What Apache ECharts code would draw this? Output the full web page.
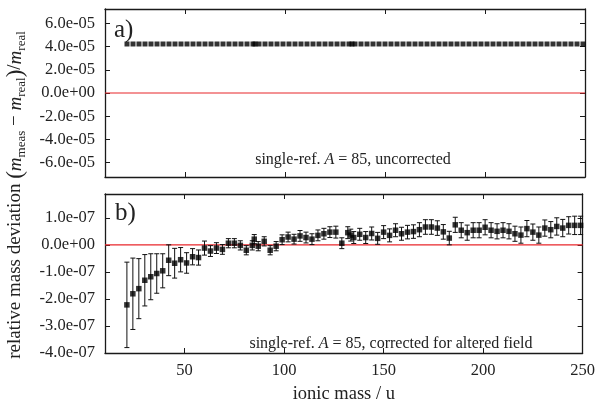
<!DOCTYPE html>
<html><head><meta charset="utf-8">
<script src="https://cdn.jsdelivr.net/npm/echarts@6/dist/echarts.min.js"></script>
<style>html,body{margin:0;padding:0;background:#fff}#c{width:598px;height:405px}</style>
</head><body><div id="c"></div>
<script>
// ionic masses (u)
const masses = [21,24,27,30,33,36,39,42,45,48,51,54,57,60,63,66,69,72,75,78,81,84,85,87,90,93,96,99,102,105,108,111,114,117,120,123,126,129,132,133.5,135,138,141,144,147,150,153,156,159,162,165,168,171,174,177,180,183,186,189,192,195,198,201,204,207,210,213,216,219,222,225,228,231,234,237,240,243,246,249];
// panel a: uncorrected relative deviation
const topValues = masses.map(() => 4.23e-5);
// panel b: corrected relative deviation (units 1e-7) and uncertainty
const bottomValuesE7 = [-2.22,-1.81,-1.62,-1.31,-1.18,-1.06,-0.96,-0.57,-0.68,-0.55,-0.67,-0.44,-0.47,-0.12,-0.23,-0.12,-0.17,0.06,0.06,-0.02,-0.20,-0.02,0.21,-0.05,0.13,-0.20,-0.05,0.19,0.29,0.21,0.33,0.27,0.21,0.35,0.41,0.47,0.47,0.06,0.45,0.36,0.27,0.39,0.27,0.42,0.24,0.47,0.35,0.54,0.41,0.47,0.49,0.56,0.66,0.66,0.62,0.48,0.25,0.74,0.54,0.45,0.54,0.54,0.65,0.54,0.50,0.54,0.50,0.41,0.36,0.60,0.47,0.36,0.62,0.56,0.68,0.62,0.72,0.72,0.72];
const bottomErrE7 = [1.58,1.32,1.11,0.95,0.85,0.73,0.63,0.57,0.55,0.45,0.38,0.30,0.28,0.26,0.20,0.20,0.18,0.17,0.17,0.17,0.17,0.17,0.17,0.17,0.17,0.17,0.17,0.18,0.18,0.18,0.20,0.20,0.20,0.20,0.20,0.20,0.22,0.20,0.22,0.22,0.22,0.22,0.22,0.24,0.22,0.24,0.24,0.24,0.24,0.25,0.25,0.26,0.27,0.27,0.27,0.27,0.25,0.28,0.28,0.28,0.28,0.28,0.28,0.28,0.28,0.28,0.28,0.28,0.30,0.30,0.30,0.30,0.30,0.30,0.32,0.32,0.32,0.34,0.34];
// zero reference line
const zeroLineX = [10, 250];
const zeroLineY = [0, 0];
const xTicks = [50,100,150,200,250];
const topYTicks = [-6e-5,-4e-5,-2e-5,0,2e-5,4e-5,6e-5];
const bottomYTicks = [-4e-7,-3e-7,-2e-7,-1e-7,0,1e-7];

const FONT = 'Liberation Serif';
const AX = '#1a1a1a';
const RED = '#e8262b';

function fmtExp(v){
  if (Math.abs(v) < 1e-15) return '0.0e+00';
  return v.toExponential(1).replace(/e([+-])(\d)$/, 'e$10$2');
}

const topData = masses.map((m,i)=>[m, topValues[i]]);
const botData = masses.map((m,i)=>[m, bottomValuesE7[i]*1e-7, bottomErrE7[i]*1e-7]);
const zeroData = zeroLineX.map((x,i)=>[x, zeroLineY[i]]);

const chart = echarts.init(document.getElementById('c'), null, {renderer:'canvas'});

function xAx(gi, pos, labels, name){
  return {
    type:'value', gridIndex:gi, position:pos, min:10, max:250,
    axisLine:{show:true, onZero:false, lineStyle:{color:AX, width:1.3}},
    axisTick:{show:true, inside:true, length:5, customValues:xTicks, lineStyle:{color:AX}},
    axisLabel:{show:labels, customValues:xTicks, margin:9, fontFamily:FONT, fontSize:16.5, color:'#222'},
    splitLine:{show:false},
    name: name||'', nameLocation:'middle', nameGap:32,
    nameTextStyle:{fontFamily:FONT, fontSize:18.5, color:'#222'}
  };
}
function yAx(gi, pos, labels, min, max, ticks){
  return {
    type:'value', gridIndex:gi, position:pos, min:min, max:max,
    axisLine:{show:true, onZero:false, lineStyle:{color:AX, width:1.3}},
    axisTick:{show:true, inside:true, length:5, customValues:ticks, lineStyle:{color:AX}},
    axisLabel:{show:labels, customValues:ticks, margin:10, fontFamily:FONT, fontSize:16.5, color:'#222', formatter:fmtExp},
    splitLine:{show:false}
  };
}

function errBar(params, api){
  const x = api.value(0), y = api.value(1), e = api.value(2);
  const hi = api.coord([x, y+e]);
  const lo = api.coord([x, y-e]);
  const w = 2.5;
  const st = {stroke:'#111', lineWidth:1};
  return {type:'group', children:[
    {type:'line', shape:{x1:hi[0], y1:hi[1], x2:lo[0], y2:lo[1]}, style:st},
    {type:'line', shape:{x1:hi[0]-w, y1:hi[1], x2:hi[0]+w, y2:hi[1]}, style:st},
    {type:'line', shape:{x1:lo[0]-w, y1:lo[1], x2:lo[0]+w, y2:lo[1]}, style:st}
  ]};
}

const zeroSeries = (xi, yi) => ({
  type:'line', xAxisIndex:xi, yAxisIndex:yi, data:zeroData, symbol:'none', silent:true,
  lineStyle:{color:RED, width:1.2}, itemStyle:{color:RED}, z:2
});

const option = {
  animation:false,
  backgroundColor:'#fff',
  grid:[
    {left:105, right:13, top:9, height:168},
    {left:105, right:13, top:194, height:168}
  ],
  xAxis:[
    xAx(0,'bottom',false),
    xAx(0,'top',false),
    xAx(1,'bottom',true,'ionic mass / u'),
    xAx(1,'top',false)
  ],
  yAxis:[
    yAx(0,'left',true,-7.25e-5,7.25e-5,topYTicks),
    yAx(0,'right',false,-7.25e-5,7.25e-5,topYTicks),
    yAx(1,'left',true,-4e-7,1.88e-7,bottomYTicks),
    yAx(1,'right',false,-4e-7,1.88e-7,bottomYTicks)
  ],
  series:[
    zeroSeries(0,0),
    {type:'scatter', xAxisIndex:0, yAxisIndex:0, data:topData, symbol:'rect', symbolSize:5, itemStyle:{color:'#000'}, z:5},
    zeroSeries(2,2),
    {type:'custom', xAxisIndex:2, yAxisIndex:2, data:botData, renderItem:errBar, z:4, encode:{x:0,y:1}},
    {type:'scatter', xAxisIndex:2, yAxisIndex:2, data:botData.map(d=>[d[0],d[1]]), symbol:'rect', symbolSize:5.5, itemStyle:{color:'#000'}, z:5}
  ],
  graphic:[
    {type:'text', x:114, y:18, style:{text:'a)', fontFamily:FONT, fontSize:25, fill:'#222'}},
    {type:'text', x:115, y:201, style:{text:'b)', fontFamily:FONT, fontSize:25, fill:'#222'}},
    {type:'text', x:353, y:160, style:{text:'single-ref. {i|A} = 85, uncorrected', align:'center', verticalAlign:'middle',
      fontFamily:FONT, fontSize:16, fill:'#222', rich:{i:{fontStyle:'italic', fontFamily:FONT, fontSize:16, fill:'#222'}}}},
    {type:'text', x:391, y:344, style:{text:'single-ref. {i|A} = 85, corrected for altered field', align:'center', verticalAlign:'middle',
      fontFamily:FONT, fontSize:16, fill:'#222', rich:{i:{fontStyle:'italic', fontFamily:FONT, fontSize:16, fill:'#222'}}}},
    {type:'text', x:17, y:195, rotation:Math.PI/2, style:{
      text:'{n|relative mass deviation }{p|(}{m|m}{s|meas}{n| − }{m|m}{s|real}{p|)}{n|/}{m|m}{s|real}',
      align:'center', verticalAlign:'middle',
      rich:{
        n:{fontFamily:FONT, fontSize:19, fill:'#222', verticalAlign:'top'},
        p:{fontFamily:FONT, fontSize:23, fill:'#222', verticalAlign:'top', padding:[-2,0,0,0]},
        m:{fontFamily:FONT, fontSize:19, fontStyle:'italic', fill:'#222', verticalAlign:'top'},
        s:{fontFamily:FONT, fontSize:13, fill:'#222', verticalAlign:'top', padding:[9,0,0,0]}
      }
    }}
  ]
};
chart.setOption(option);
</script>
</body></html>
